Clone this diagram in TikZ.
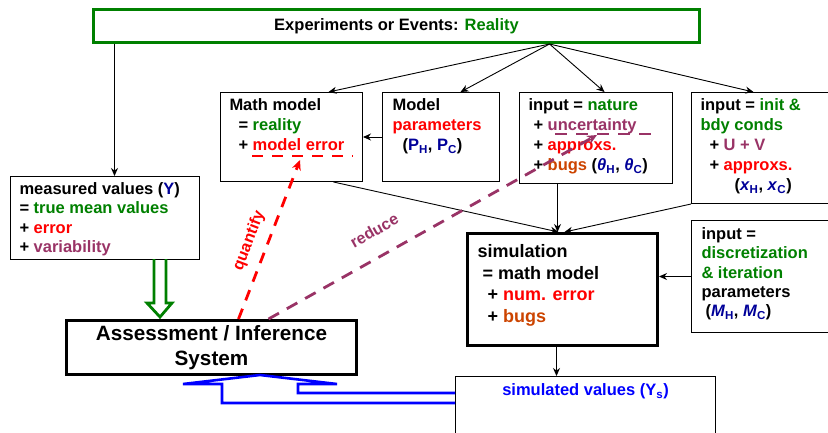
\documentclass[tikz,border=0pt]{standalone}
\usepackage{fontspec}
\setmainfont{Liberation Sans}
\usetikzlibrary{arrows.meta}

\definecolor{realgreen}{RGB}{0,128,0}
\definecolor{errred}{RGB}{255,0,0}
\definecolor{uncpurple}{RGB}{153,51,102}
\definecolor{bugorange}{RGB}{204,68,0}
\definecolor{symblue}{RGB}{0,0,153}
\definecolor{simblue}{RGB}{0,0,255}

% text block pinned to the top of a box: width, height, lines
\newcommand{\toplines}[3]{\parbox[c][#2][t]{#1}{\raggedright #3}}
\newcommand{\sym}[2]{\textcolor{symblue}{#1\textsubscript{#2}}}

\tikzset{
  infobox/.style={draw, line width=1bp, anchor=north west, inner xsep=9bp, inner ysep=6bp,
    font=\bfseries\fontsize{16.5bp}{20bp}\selectfont},
  thickbox/.style={infobox, line width=3bp},
  flow/.style={-{Stealth[length=8bp,width=7bp]}, line width=0.9bp},
  quantline/.style={errred, line width=2.8bp, dash pattern=on 11bp off 9bp},
  reduceline/.style={uncpurple, line width=2.8bp, dash pattern=on 12bp off 9bp},
  slabel/.style={font=\bfseries\fontsize{16bp}{18bp}\selectfont, sloped, above=6bp}
}

\begin{document}
\begin{tikzpicture}[x=1bp,y=-1bp]
  \useasboundingbox (0,0) rectangle (828,432);

  % reality on top
  \node[infobox, draw=realgreen, line width=3bp, inner sep=0pt, minimum width=606bp, minimum height=33bp] (top) at (92,8)
    {Experiments or Events: \textcolor{realgreen}{Reality}};

  % model inputs
  \node[infobox] (mathm) at (220,92) {\toplines{124bp}{77bp}{%
    Math model\\
    \hspace*{9bp}= \textcolor{realgreen}{reality}\\
    \hspace*{9bp}+ \textcolor{errred}{model error}}};
  \node[infobox, inner xsep=10bp] (param) at (382,92) {\toplines{97bp}{77bp}{%
    Model\\
    \textcolor{errred}{parameters}\\
    \hspace*{10bp}(\sym{P}{H}, \sym{P}{C})}};
  \node[infobox] (nature) at (519,92) {\toplines{135bp}{79bp}{%
    input = \textcolor{realgreen}{nature}\\
    \hspace*{5bp}+ \textcolor{uncpurple}{uncertainty}\\
    \hspace*{5bp}+ \textcolor{errred}{approxs.}\\
    \hspace*{5bp}+ \textcolor{bugorange}{bugs} (\sym{\textit{θ}}{H}, \sym{\textit{θ}}{C})}};
  \node[infobox] (init) at (691,92) {\toplines{127bp}{99bp}{%
    input = \textcolor{realgreen}{init \&}\\
    \textcolor{realgreen}{bdy conds}\\
    \hspace*{9bp}+ \textcolor{uncpurple}{U + V}\\
    \hspace*{9bp}+ \textcolor{errred}{approxs.}\\
    \hspace*{34bp}(\sym{\textit{x}}{H}, \sym{\textit{x}}{C})}};

  % measurements
  \node[infobox, font=\bfseries\fontsize{16.5bp}{19.5bp}\selectfont] (meas) at (10,176) {\toplines{171bp}{71bp}{%
    measured values (\textcolor{symblue}{Y})\\
    = \textcolor{realgreen}{true mean values}\\
    + \textcolor{errred}{error}\\
    + \textcolor{uncpurple}{variability}}};

  % simulation
  \node[thickbox, inner xsep=10bp, inner ysep=11bp, font=\bfseries\fontsize{18bp}{21.5bp}\selectfont] (sim) at (466,232)
    {\toplines{170bp}{90bp}{%
    simulation\\
    \hspace*{5bp}= math model\\
    \hspace*{10bp}+ \textcolor{errred}{num. error}\\
    \hspace*{10bp}+ \textcolor{bugorange}{bugs}}};
  \node[infobox, inner xsep=10bp, inner ysep=7bp, font=\bfseries\fontsize{16.5bp}{19.3bp}\selectfont] (disc) at (691,220)
    {\toplines{125bp}{98bp}{%
    input =\\
    \textcolor{realgreen}{discretization}\\
    \textcolor{realgreen}{\& iteration}\\
    parameters\\
    \hspace*{4bp}(\sym{\textit{M}}{H}, \sym{\textit{M}}{C})}};
  \node[infobox, inner xsep=10bp, inner ysep=7bp] (simval) at (455,376)
    {\parbox[c][56bp][t]{240bp}{\centering\textcolor{simblue}{simulated values (Y\textsubscript{s})}}};

  % assessment
  \node[thickbox, inner sep=0pt, align=center, minimum width=290bp, minimum height=54bp,
    font=\bfseries\fontsize{20.7bp}{25bp}\selectfont] (assess) at (65,319)
    {Assessment / Inference\\System};

  % connectors
  \coordinate (fan) at ([xshift=153bp]top.south);
  \draw[flow] ([xshift=-282bp]top.south) -- ([xshift=-282bp]top.south |- meas.north);
  \draw[flow] (fan) -- ([xshift=37bp]mathm.north);
  \draw[flow] (fan) -- ([xshift=19.5bp]param.north);
  \draw[flow] (fan) -- ([xshift=8.5bp]nature.north);
  \draw[flow] (fan) -- ([xshift=-10.5bp]init.north);
  \draw[flow] (param.west) -- (param.west -| mathm.east);
  \draw[flow] ([xshift=42bp]mathm.south) -- ([xshift=-4bp]sim.north);
  \draw[flow] ([xshift=-38.5bp]nature.south) -- ([xshift=-38.5bp]nature.south |- sim.north);
  \draw[flow] (init.south west) -- ([xshift=2bp]sim.north);
  \draw[flow] (disc.west) -- (disc.west -| sim.east);
  \draw[flow] ([xshift=-6bp]sim.south) -- ([xshift=-6bp]sim.south |- simval.north);

  % hollow block arrows
  \draw[realgreen, line width=2.8bp] (154,259) -- (154,303) -- (147,303) -- (160,317) -- (172,303) -- (166,303) -- (166,259);
  \draw[simblue, line width=2.6bp] (455,393) -- (298,393) -- (298,384) -- (337,384) -- (260,375)
    -- (183,384) -- (222,384) -- (222,403) -- (455,403);

  % quantify and reduce
  \coordinate (merr) at (300,160);
  \coordinate (unc) at (597,135);
  \draw[quantline] (252,156) -- (353,156);
  \draw[reduceline] (555,134) -- (657,134);
  \draw[quantline, -{Stealth[length=10bp,width=9bp]}] ([xshift=27bp]assess.north) -- (merr)
    node[slabel, pos=.45] {quantify};
  \draw[reduceline, -{Stealth[length=10bp,width=9bp]}] ([xshift=57bp]assess.north) -- (unc)
    node[slabel, above=9bp, pos=.36] {reduce};
\end{tikzpicture}
\end{document}
